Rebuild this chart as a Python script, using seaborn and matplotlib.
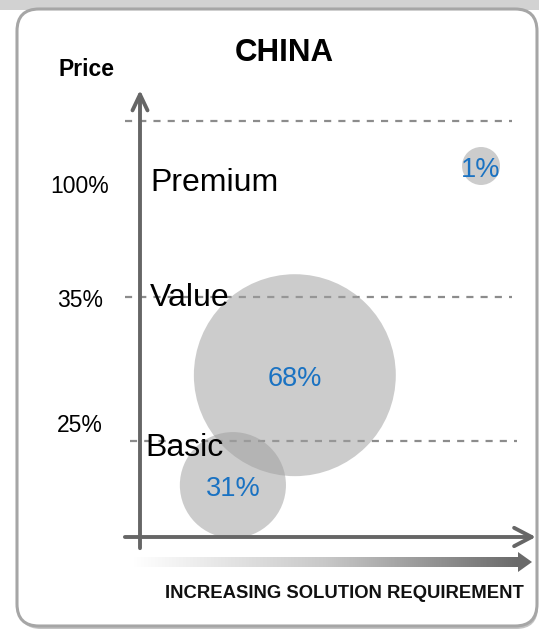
import numpy as np
import pandas as pd
import matplotlib
matplotlib.use("Agg")
import matplotlib.pyplot as plt
from matplotlib.patches import FancyBboxPatch, Polygon, Rectangle
import seaborn as sns

# Chart data
segments = ["Premium", "Value", "Basic"]
price_labels = ["100%", "35%", "25%"]
share = [1, 68, 31]                      # share of market, %
requirement = [85.9, 39.0, 23.4]         # solution requirement (0-100 scale)
price_level = [83.0, 36.2, 11.6]         # price position (0-100 scale)
tier_lines = [93.1, 53.7, 21.5]          # tier boundaries on the price scale

df = pd.DataFrame({"requirement": requirement, "price_level": price_level,
                   "share": share})

sns.set_theme(style="white")
plt.rcParams["font.family"] = ["Liberation Sans", "DejaVu Sans"]

W, H = 539, 630
fig = plt.figure(figsize=(W / 100, H / 100), dpi=100)
fig.patch.set_facecolor("white")

# background layer in pixel coordinates (panel, title, gradient arrow)
bg = fig.add_axes([0, 0, 1, 1])
bg.set_xlim(0, W)
bg.set_ylim(H, 0)
bg.axis("off")
bg.add_patch(Rectangle((0, 0), W, 10, color="#d2d2d2", lw=0, zorder=0))
bg.add_patch(FancyBboxPatch((19, 11), 519, 618,
                            boxstyle="round,pad=0,rounding_size=22",
                            fc="#c4c4c4", ec="none", zorder=0.5))
bg.add_patch(FancyBboxPatch((17, 9), 520, 617,
                            boxstyle="round,pad=0,rounding_size=22",
                            fc="white", ec="#a6a6a6", lw=2.2, zorder=1))

bg.text(284, 53, "CHINA", ha="center", va="center", fontsize=22.5,
        fontweight="bold", color="black")
bg.text(86, 69, "Price", ha="center", va="center", fontsize=16.5,
        fontweight="bold", color="black")
bg.text(344, 593, "INCREASING SOLUTION REQUIREMENT", ha="center",
        va="center", fontsize=13.3, fontweight="bold", color="#111111")

# gradient arrow under the x axis
grad = np.linspace(0, 1, 256).reshape(1, -1)
cmap = matplotlib.colors.LinearSegmentedColormap.from_list(
    "g", ["#ffffff", "#c8c8c8", "#6a6a6a"])
bg.imshow(grad, cmap=cmap, aspect="auto", extent=[133, 519, 567, 557],
          zorder=2)
bg.add_patch(Polygon([(518, 552), (532, 562), (518, 572)], closed=True,
                     fc="#6a6a6a", ec="none", zorder=2))
bg.set_xlim(0, W)
bg.set_ylim(H, 0)

# chart area
x0, x1, ytop, ybot = 140, 537, 90, 537
ax = fig.add_axes([x0 / W, (H - ybot) / H, (x1 - x0) / W, (ybot - ytop) / H])
ax.set_xlim(0, 100)
ax.set_ylim(0, 100)
ax.patch.set_alpha(0)
ax.axis("off")

# tier boundary lines
line_start = [-3.8, -3.8, -2.5]
line_end = [93.7, 93.7, 95.0]
for y, xs, xe in zip(tier_lines, line_start, line_end):
    ax.plot([xs, xe], [y, y], color="#8c8c8c", lw=1.6, dashes=(3.2, 3.2),
            clip_on=False, zorder=1)

# bubbles
sns.scatterplot(data=df, x="requirement", y="price_level", size="share",
                sizes={1: 748, 31: 5837, 68: 21141}, color="#9f9f9f",
                alpha=0.53, linewidth=0, legend=False, ax=ax, zorder=2,
                clip_on=False)
ax.set_xlim(0, 100)
ax.set_ylim(0, 100)
ax.axis("off")
for xv, yv, s in zip(requirement, price_level, share):
    ax.text(xv, yv - 0.9, f"{s}%", ha="center", va="center", fontsize=19.5,
            color="#1a72c2", zorder=4)

# tier names and price labels
name_pos = [(2.5, 79.2), (2.5, 53.4), (1.3, 19.8)]
for name, (xv, yv) in zip(segments, name_pos):
    ax.text(xv, yv, name, ha="left", va="center", fontsize=23,
            color="black", zorder=5, clip_on=False)
price_pos = [78.5, 52.8, 24.9]
for lab, yv in zip(price_labels, price_pos):
    ax.text(-15.1, yv, lab, ha="center", va="center", fontsize=16.5,
            color="black", clip_on=False)

# axis arrows
arr = dict(arrowstyle="->,head_length=0.95,head_width=0.45", lw=2.8,
           color="#666666", shrinkA=0, shrinkB=0)
ax.annotate("", xy=(0, 1.0), xytext=(0, -0.025), xycoords="axes fraction",
            textcoords="axes fraction", arrowprops=arr, annotation_clip=False)
ax.annotate("", xy=(0.997, 0), xytext=(-0.038, 0), xycoords="axes fraction",
            textcoords="axes fraction",
            arrowprops=dict(arr, arrowstyle="->,head_length=1.05,head_width=0.55"),
            annotation_clip=False)

fig.savefig("out.png", dpi=100)
